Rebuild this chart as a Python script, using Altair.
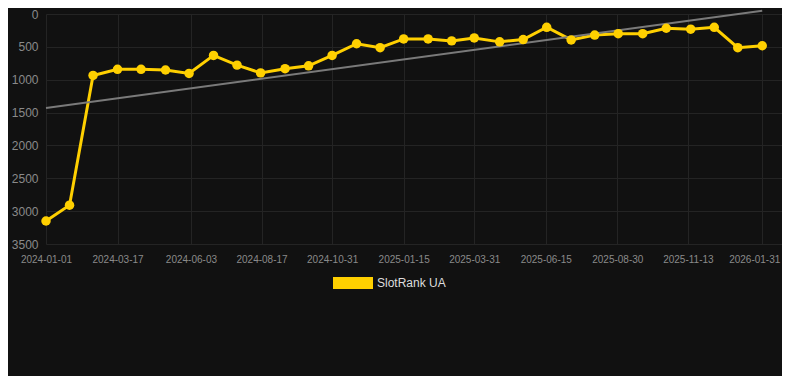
import altair as alt
import pandas as pd

dates = [
    "2024-01-01", "2024-01-26", "2024-02-20", "2024-03-17", "2024-04-11",
    "2024-05-07", "2024-06-01", "2024-06-27", "2024-07-22", "2024-08-16",
    "2024-09-11", "2024-10-06", "2024-10-31", "2024-11-26", "2024-12-21",
    "2025-01-15", "2025-02-10", "2025-03-07", "2025-03-31", "2025-04-27",
    "2025-05-22", "2025-06-16", "2025-07-12", "2025-08-06", "2025-08-31",
    "2025-09-26", "2025-10-21", "2025-11-16", "2025-12-11", "2026-01-05",
    "2026-01-31",
]
ranks = [
    3150, 2910, 935, 842, 842, 852, 905, 630, 778, 896,
    832, 788, 630, 453, 512, 379, 379, 409, 364, 424,
    389, 202, 394, 320, 300, 300, 217, 231, 202, 512,
    483,
]
tick_dates = [
    "2024-01-01", "2024-03-17", "2024-06-03", "2024-08-17", "2024-10-31",
    "2025-01-15", "2025-03-31", "2025-06-15", "2025-08-30", "2025-11-13",
    "2026-01-31",
]
y_ticks = [0, 500, 1000, 1500, 2000, 2500, 3000, 3500]
series_name = "SlotRank UA"


def to_ms(s):
    return int(pd.Timestamp(s, tz="UTC").value // 10**6)


df = pd.DataFrame({
    "t": [to_ms(d) for d in dates],
    "rank": ranks,
    "series": [series_name] * len(dates),
})
tick_ms = [to_ms(d) for d in tick_dates]
x_domain = [to_ms("2024-01-01"), to_ms("2026-02-21")]
last_label = tick_dates[-1]

YELLOW = "#FFD000"
FONT = "Liberation Sans"
GRID = "#242424"

x_enc = alt.X(
    "t:T",
    scale=alt.Scale(type="utc", domain=x_domain, nice=False),
    axis=alt.Axis(
        values=tick_ms, format="%Y-%m-%d", title=None, labelFontSize=10,
        labelColor="#8a8a8a", labelPadding=10, ticks=False, tickSize=0,
        domain=False, grid=True, gridColor=GRID, labelFont=FONT,
        labelFlush=False, labelOverlap=False,
        labelOffset={
            "condition": {"test": f"datum.label == '{last_label}'", "value": -8},
            "value": 0,
        },
    ),
)
y_enc = alt.Y(
    "rank:Q",
    scale=alt.Scale(domain=[0, 3500], reverse=True, nice=False),
    axis=alt.Axis(
        values=y_ticks, format="d", title=None, labelFontSize=12,
        labelColor="#8a8a8a", labelPadding=8, ticks=False, tickSize=0,
        domain=False, grid=True, gridColor=GRID, labelFont=FONT,
        labelOverlap=False, labelFlush=False,
    ),
)

base = alt.Chart(df)

trend = base.transform_regression("t", "rank").mark_line(
    color="#7a7a7a", strokeWidth=2, clip=False
).encode(x=x_enc, y=y_enc)

line = base.mark_line(color=YELLOW, strokeWidth=3).encode(x=x_enc, y=y_enc)

points = base.mark_point(filled=True, size=90, opacity=1).encode(
    x=x_enc,
    y=y_enc,
    color=alt.Color(
        "series:N",
        scale=alt.Scale(domain=[series_name], range=[YELLOW]),
        legend=alt.Legend(
            title=None, orient="none", legendX=287, legendY=249,
            symbolType="M-1,-0.3L1,-0.3L1,0.3L-1,0.3Z", symbolSize=1600,
            symbolStrokeWidth=0, labelColor="#dddddd", labelFontSize=12,
            labelFont=FONT, padding=0, symbolOpacity=1,
        ),
    ),
)

chart = (
    alt.layer(line, trend, points)
    .properties(
        width=736, height=230, background="#111111",
        autosize=alt.AutoSizeParams(type="none"),
        padding={"left": 38, "top": 6, "right": 0, "bottom": 132},
    )
    .configure_view(stroke=None)
)

chart.save("out.html", embed_options={"renderer": "svg", "actions": False})
